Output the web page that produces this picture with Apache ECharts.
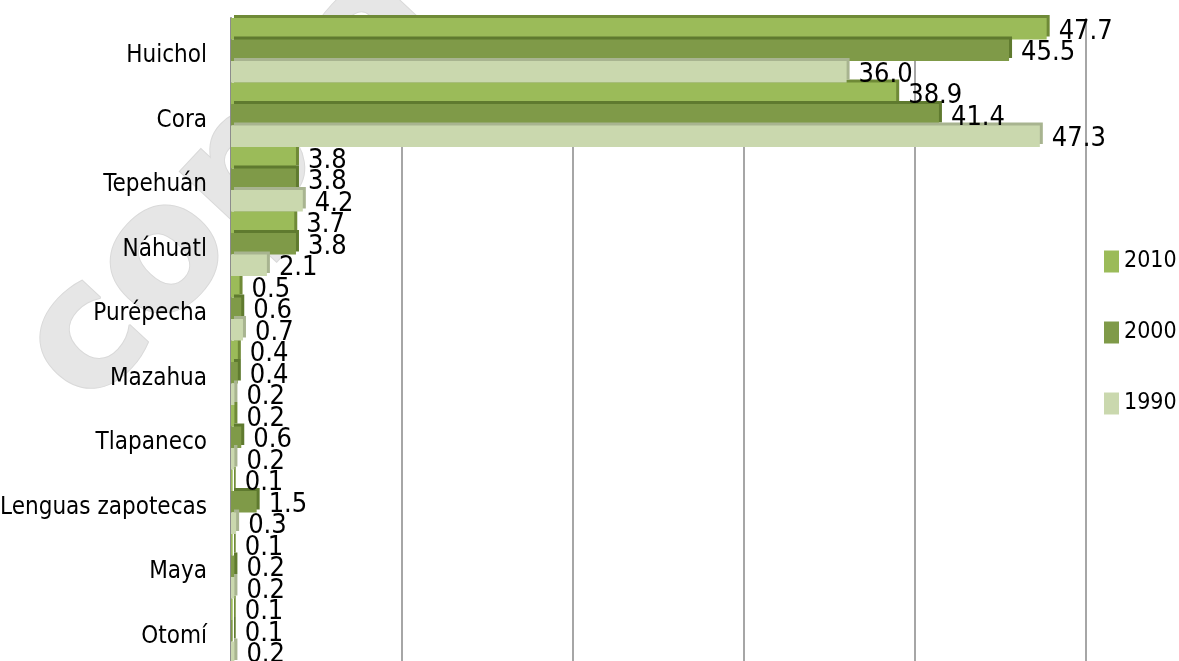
<!DOCTYPE html>
<html>
<head>
<meta charset="utf-8">
<script src="https://cdn.jsdelivr.net/npm/echarts@6/dist/echarts.min.js"></script>
<style>
  html, body { margin: 0; padding: 0; background: #fff; }
  #chart { width: 1179px; height: 661px; }
</style>
</head>
<body>
<div id="chart"></div>
<script>
// categorias (de arriba hacia abajo)
const categories = ['Huichol', 'Cora', 'Tepehuán', 'Náhuatl', 'Purépecha', 'Mazahua', 'Tlapaneco', 'Lenguas zapotecas', 'Maya', 'Otomí'];
const seriesNames = ['2010', '2000', '1990'];
const values2010 = [47.7, 38.9, 3.8, 3.7, 0.5, 0.4, 0.2, 0.1, 0.1, 0.1];
const values2000 = [45.5, 41.4, 3.8, 3.8, 0.6, 0.4, 0.6, 1.5, 0.2, 0.1];
const values1990 = [36.0, 47.3, 4.2, 2.1, 0.7, 0.2, 0.2, 0.3, 0.2, 0.2];

const colors = ['#9bbb59', '#7f9a48', '#cad8ae'];
const sideColors = ['#6f8a37', '#5f7a2f', '#a8b490'];
const font = '"DejaVu Sans Condensed", "Liberation Sans Narrow", sans-serif';

const chart = echarts.init(document.getElementById('chart'));

function makeSeries(name, data, i) {
  return {
    name: name,
    type: 'bar',
    data: data,
    barGap: '0%',
    barCategoryGap: '0%',
    itemStyle: {
      color: colors[i],
      shadowColor: sideColors[i],
      shadowOffsetX: 3,
      shadowOffsetY: -3,
      shadowBlur: 0
    },
    label: {
      show: true,
      position: 'right',
      distance: 12,
      offset: [0, 3],
      color: '#000',
      fontFamily: font,
      fontSize: 27,
      formatter: p => p.value.toFixed(1)
    }
  };
}

const option = {
  animation: false,
  backgroundColor: '#fff',
  color: colors,
  grid: { left: 231, right: 93, top: 18, bottom: -2, containLabel: false, outerBoundsMode: 'none' },
  legend: {
    orient: 'vertical',
    left: 1099,
    top: 245,
    itemWidth: 15,
    itemHeight: 22,
    itemGap: 48,
    icon: 'rect',
    textStyle: { fontFamily: font, fontSize: 23, color: '#000', lineHeight: 22 },
    data: seriesNames
  },
  xAxis: {
    type: 'value',
    min: 0,
    max: 50,
    interval: 10,
    axisLine: { show: false },
    axisTick: { show: false },
    axisLabel: { show: false },
    splitLine: { lineStyle: { color: '#a6a6a6', width: 2 } }
  },
  yAxis: {
    type: 'category',
    inverse: true,
    data: categories,
    axisLine: { show: true, lineStyle: { color: '#8c8c8c', width: 2 } },
    axisTick: { show: false },
    axisLabel: {
      margin: 24,
      verticalAlign: 'top',
      lineHeight: 12,
      color: '#000',
      fontFamily: font,
      fontSize: 24
    }
  },
  graphic: [{
    type: 'text',
    z: -10,
    silent: true,
    x: 118,
    y: 440,
    rotation: 47 * Math.PI / 180,
    style: {
      text: 'copia',
      font: 'bold 175px "DejaVu Sans"',
      fill: '#e6e6e6',
      stroke: '#d9d9d9',
      lineWidth: 2,
      textVerticalAlign: 'bottom'
    }
  }],
  series: [
    makeSeries(seriesNames[0], values2010, 0),
    makeSeries(seriesNames[1], values2000, 1),
    makeSeries(seriesNames[2], values1990, 2)
  ]
};

chart.setOption(option);
</script>
</body>
</html>
